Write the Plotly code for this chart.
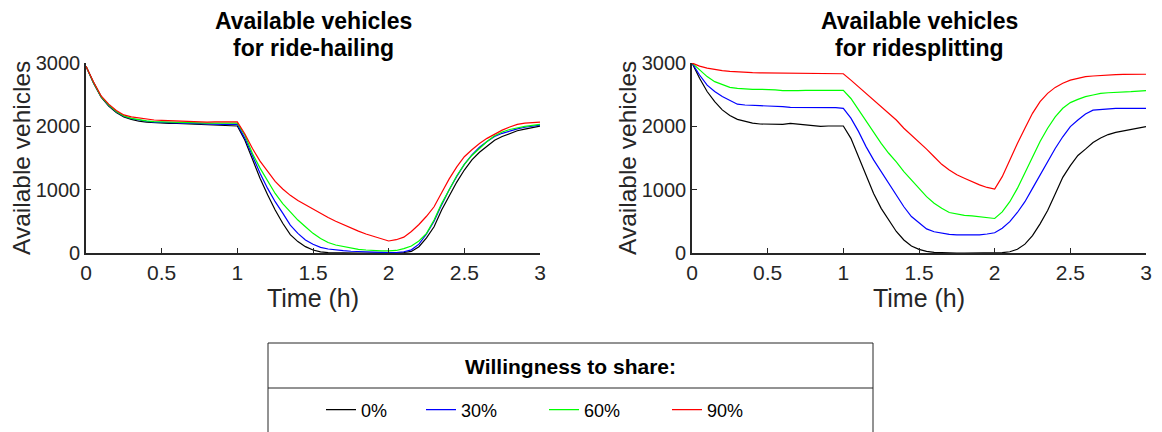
import plotly.graph_objects as go
from plotly.subplots import make_subplots

# ---------------- data ----------------
time_h = [0.0, 0.05, 0.1, 0.15, 0.2, 0.25, 0.3, 0.35, 0.4, 0.45, 0.5, 0.55, 0.6, 0.65, 0.7, 0.75, 0.8, 0.85, 0.9, 0.95,
          1.0, 1.05, 1.1, 1.15, 1.2, 1.25, 1.3, 1.35, 1.4, 1.45, 1.5, 1.55, 1.6, 1.65, 1.7, 1.75, 1.8, 1.85, 1.9, 1.95,
          2.0, 2.05, 2.1, 2.15, 2.2, 2.25, 2.3, 2.35, 2.4, 2.45, 2.5, 2.55, 2.6, 2.65, 2.7, 2.75, 2.8, 2.85, 2.9, 2.95, 3.0]

series_names = ["0%", "30%", "60%", "90%"]
series_colors = ["#000000", "#0000FF", "#00FF00", "#FF0000"]

# Ride-hailing (left panel)
hail_0 = [2950, 2680, 2460, 2320, 2220, 2150, 2110, 2080, 2065, 2055, 2050, 2045, 2045, 2040, 2035, 2030, 2020, 2010, 2015, 2010, 2005,
          1780, 1470, 1180, 920, 680, 470, 290, 180, 100, 47, 18, 6, 2, 0, 0, 0, 0, 0, 0, 0,
          3, 8, 25, 100, 240, 415, 680, 910, 1120, 1310, 1470, 1590, 1690, 1780, 1840, 1890, 1930, 1955, 1985, 2005]
hail_30 = [2950, 2690, 2470, 2330, 2230, 2160, 2120, 2095, 2080, 2065, 2060, 2060, 2055, 2050, 2045, 2040, 2035, 2030, 2030, 2030, 2030,
           1810, 1520, 1260, 1020, 810, 630, 440, 310, 205, 137, 90, 63, 47, 37, 28, 21, 15, 10, 7, 5,
           8, 20, 50, 140, 300, 500, 760, 1000, 1210, 1400, 1550, 1670, 1760, 1840, 1890, 1930, 1960, 1985, 2000, 2020]
hail_60 = [2950, 2690, 2470, 2335, 2235, 2165, 2125, 2100, 2085, 2075, 2070, 2065, 2060, 2060, 2060, 2055, 2050, 2050, 2050, 2050, 2050,
           1860, 1570, 1340, 1130, 940, 780, 650, 520, 415, 310, 230, 165, 126, 100, 79, 58, 47, 37, 32, 32,
           40, 70, 110, 190, 310, 520, 780, 1000, 1220, 1400, 1540, 1650, 1760, 1850, 1910, 1950, 1980, 2000, 2015, 2030]
hail_90 = [2950, 2700, 2480, 2350, 2250, 2180, 2150, 2130, 2110, 2100, 2095, 2090, 2085, 2075, 2070, 2070, 2065, 2070, 2070, 2075, 2070,
           1880, 1650, 1450, 1280, 1130, 1010, 910, 830, 760, 690, 625, 560, 500, 445, 395, 345, 300, 260, 220, 190,
           210, 250, 340, 450, 580, 730, 950, 1170, 1360, 1520, 1630, 1730, 1810, 1880, 1940, 1990, 2030, 2050, 2062, 2065]

# Ridesplitting (right panel)
split_0 = [3000, 2760, 2550, 2390, 2260, 2170, 2110, 2075, 2050, 2037, 2037, 2032, 2032, 2048, 2037, 2021, 2005, 2000, 2005, 2005, 2005,
           1810, 1520, 1200, 940, 705, 520, 340, 205, 110, 58, 26, 11, 4, 1, 0, 0, 0, 0, 0, 0,
           5, 20, 60, 140, 275, 460, 670, 930, 1195, 1380, 1540, 1640, 1745, 1815, 1870, 1905, 1930, 1945, 1975, 1995]
split_30 = [3000, 2810, 2650, 2550, 2470, 2415, 2350, 2337, 2337, 2326, 2321, 2321, 2310, 2300, 2300, 2300, 2295, 2295, 2295, 2295, 2284,
            2130, 1920, 1680, 1470, 1280, 1100, 920, 730, 575, 470, 380, 335, 310, 295, 285, 284, 284, 285, 300, 320,
            390, 495, 640, 810, 1020, 1230, 1440, 1650, 1835, 1995, 2100, 2195, 2255, 2265, 2280, 2285, 2285, 2285, 2290, 2285]
split_60 = [3000, 2890, 2785, 2705, 2655, 2615, 2600, 2590, 2585, 2585, 2585, 2575, 2565, 2558, 2563, 2568, 2568, 2572, 2574, 2577, 2570,
            2440, 2260, 2075, 1890, 1730, 1575, 1440, 1285, 1150, 1020, 890, 785, 705, 640, 615, 595, 585, 575, 555, 545,
            650, 810, 1020, 1260, 1520, 1760, 1970, 2150, 2285, 2375, 2425, 2470, 2495, 2520, 2530, 2532, 2542, 2548, 2557, 2563]
split_90 = [3000, 2950, 2920, 2895, 2880, 2868, 2858, 2853, 2848, 2845, 2843, 2842, 2840, 2838, 2836, 2835, 2834, 2833, 2832, 2832, 2830,
            2730, 2625, 2520, 2415, 2310, 2205, 2100, 1970, 1865, 1760, 1640, 1520, 1400, 1310, 1235, 1180, 1125, 1075, 1035, 1010,
            1205, 1470, 1730, 1970, 2205, 2390, 2520, 2615, 2680, 2730, 2760, 2785, 2795, 2805, 2810, 2815, 2820, 2822, 2826, 2822]

hail_series = [hail_0, hail_30, hail_60, hail_90]
split_series = [split_0, split_30, split_60, split_90]

x_ticks = [0, 0.5, 1, 1.5, 2, 2.5, 3]
x_tick_labels = ["0", "0.5", "1", "1.5", "2", "2.5", "3"]
y_ticks = [0, 1000, 2000, 3000]
y_tick_labels = ["0", "1000", "2000", "3000"]

panel_titles = [["Available vehicles", "for ride-hailing"], ["Available vehicles", "for ridesplitting"]]
x_title = "Time (h)"
y_title = "Available vehicles"
legend_title = "Willingness to share:"

# ---------------- figure ----------------
# The page body has an 8 px margin, so the figure is laid out 8 px smaller
# and every screen position below is given in screen pixels minus that offset.
OFF = 8
W, H = 1162 - OFF, 432 - OFF
PLOT_L, PLOT_R, PLOT_T, PLOT_B = 86, 1146, 63, 253  # screen pixels
ML, MR = PLOT_L - OFF, (W + OFF) - PLOT_R
MT, MB = PLOT_T - OFF, (H + OFF) - PLOT_B
PW = W - ML - MR
PH = H - MT - MB


def px_x(px):
    return (px - PLOT_L) / PW


def px_y(py):
    return (PLOT_B - py) / PH


fig = make_subplots(rows=1, cols=2, horizontal_spacing=(692 - 540) / PW)

legend_keys = ["legend", "legend2", "legend3", "legend4"]
for i, name in enumerate(series_names):
    fig.add_trace(go.Scatter(x=time_h, y=hail_series[i], mode="lines", name=name,
                             line=dict(color=series_colors[i], width=1.2),
                             legend=legend_keys[i], showlegend=True), row=1, col=1)
for i, name in enumerate(series_names):
    fig.add_trace(go.Scatter(x=time_h, y=split_series[i], mode="lines", name=name,
                             line=dict(color=series_colors[i], width=1.2),
                             showlegend=False), row=1, col=2)

axis_color = "#262626"
font_family = "Liberation Sans, Arial, sans-serif"

for c in (1, 2):
    fig.update_xaxes(range=[0, 3], tickvals=x_ticks, ticktext=x_tick_labels,
                     showline=True, linecolor=axis_color, linewidth=1.6,
                     ticks="inside", ticklen=5, tickwidth=1.3, tickcolor=axis_color,
                     showgrid=False, zeroline=False, automargin=True,
                     tickfont=dict(size=21, color=axis_color, family=font_family),
                     title=dict(text=x_title, font=dict(size=25, color=axis_color, family=font_family), standoff=2),
                     row=1, col=c)
    fig.update_yaxes(range=[0, 3000], tickvals=y_ticks, ticktext=y_tick_labels,
                     showline=True, linecolor=axis_color, linewidth=1.6,
                     ticks="inside", ticklen=5, tickwidth=1.3, tickcolor=axis_color,
                     showgrid=False, zeroline=False, automargin=True,
                     tickfont=dict(size=20, color=axis_color, family=font_family),
                     row=1, col=c)

# y-axis titles: rotated annotations, placed hard against the left edge as in the reference
for left_px in (86, 692):
    fig.add_annotation(x=px_x(left_px - 65), y=0.5, xref="paper", yref="paper", text=y_title,
                       textangle=-90, showarrow=False, xanchor="center", yanchor="middle", borderpad=0,
                       font=dict(size=24.5, color=axis_color, family=font_family))

# panel titles (one annotation per line so the line pitch matches)
centers = [(86 + 540) / 2, (692 + 1146) / 2]
line_centers_y = [21, 48]
for cx, lines in zip(centers, panel_titles):
    for ly, txt in zip(line_centers_y, lines):
        fig.add_annotation(x=px_x(cx), y=px_y(ly), xref="paper", yref="paper", text="<b>" + txt + "</b>",
                           showarrow=False, xanchor="center", yanchor="middle", borderpad=0,
                           font=dict(size=23, color="#000000", family=font_family))

# legend frame (box, separator, title)
box_l, box_r, box_t, box_b, sep_y = 268, 873, 343, 445, 388
fig.add_shape(type="rect", xref="paper", yref="paper", x0=px_x(box_l), x1=px_x(box_r),
              y0=px_y(box_t), y1=px_y(box_b), line=dict(color=axis_color, width=1), fillcolor="rgba(0,0,0,0)")
fig.add_shape(type="line", xref="paper", yref="paper", x0=px_x(box_l), x1=px_x(box_r),
              y0=px_y(sep_y), y1=px_y(sep_y), line=dict(color=axis_color, width=1))
fig.add_annotation(x=px_x((box_l + box_r) / 2), y=px_y(366), xref="paper", yref="paper",
                   text="<b>" + legend_title + "</b>", showarrow=False, xanchor="center", yanchor="middle",
                   font=dict(size=21, color="#000000", family=font_family))

text_starts = [363, 463, 586, 709]
legend_layout = {}
for key, tx in zip(legend_keys, text_starts):
    legend_layout[key] = dict(x=px_x(tx - 42), y=px_y(410), xref="paper", yref="paper",
                              xanchor="left", yanchor="middle", orientation="h",
                              bgcolor="rgba(0,0,0,0)", borderwidth=0,
                              font=dict(size=18, color="#000000", family=font_family))

fig.update_layout(width=W, height=H, margin=dict(l=ML, r=MR, t=MT, b=MB, autoexpand=False),
                  paper_bgcolor="white", plot_bgcolor="white",
                  font=dict(family=font_family), **legend_layout)

fig.write_html("out.html")
